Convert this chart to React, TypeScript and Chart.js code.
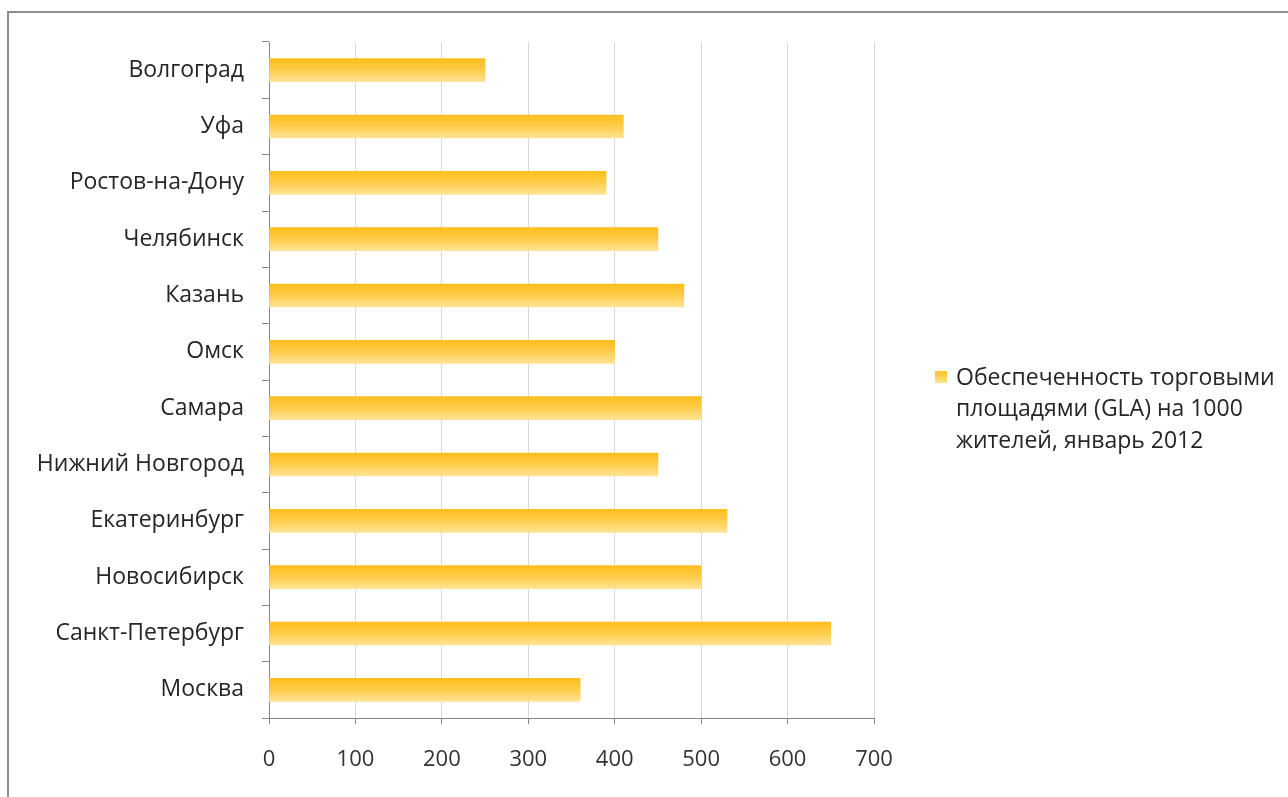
import React, { useEffect, useRef } from "react";
import { Chart, registerables } from "chart.js";

Chart.register(...registerables);

// Cities, top to bottom
const cities = [
  "Волгоград",
  "Уфа",
  "Ростов-на-Дону",
  "Челябинск",
  "Казань",
  "Омск",
  "Самара",
  "Нижний Новгород",
  "Екатеринбург",
  "Новосибирск",
  "Санкт-Петербург",
  "Москва",
];

// GLA per 1000 residents, January 2012
const glaPer1000 = [250, 410, 390, 450, 480, 400, 500, 450, 530, 500, 650, 360];

const xTicks = [0, 100, 200, 300, 400, 500, 600, 700];

const legendLines = [
  "Обеспеченность торговыми",
  "площадями (GLA) на 1000",
  "жителей, январь 2012",
];

const FONT = "'Open Sans', 'Noto Sans', sans-serif";
const BAR_THICKNESS = 23;
const AXIS_GRAY = "#878787";

function barGradient(ctx: CanvasRenderingContext2D, top: number, bottom: number) {
  const g = ctx.createLinearGradient(0, top, 0, bottom);
  g.addColorStop(0, "#FFBE1E");
  g.addColorStop(0.45, "#FFCB45");
  g.addColorStop(1, "#FFE394");
  return g;
}

// Outer frame (top and left edges) and the wrapped legend on the right
const framePlugin = {
  id: "frameAndLegend",
  beforeDraw(chart: any) {
    const ctx = chart.ctx;
    ctx.save();
    ctx.fillStyle = "#ffffff";
    ctx.fillRect(0, 0, chart.width, chart.height);
    ctx.strokeStyle = "#8e8e8e";
    ctx.lineWidth = 2;
    ctx.beginPath();
    ctx.moveTo(8, chart.height);
    ctx.lineTo(8, 12);
    ctx.lineTo(chart.width, 12);
    ctx.stroke();
    ctx.restore();
  },
  afterDraw(chart: any) {
    const ctx = chart.ctx;
    ctx.save();
    ctx.fillStyle = barGradient(ctx, 369, 383);
    ctx.fillRect(935, 371, 12, 12);
    ctx.fillStyle = "#262626";
    ctx.font = `23px ${FONT}`;
    ctx.textBaseline = "middle";
    ctx.textAlign = "left";
    legendLines.forEach((line, i) => {
      ctx.fillText(line, 956, 378 + i * 31.5);
    });
    ctx.restore();
  },
};

export default function App() {
  const canvasRef = useRef<HTMLCanvasElement | null>(null);

  useEffect(() => {
    if (!canvasRef.current) return;
    const chart = new Chart(canvasRef.current, {
      type: "bar",
      data: {
        labels: cities,
        datasets: [
          {
            label: legendLines.join(" "),
            data: glaPer1000,
            barThickness: BAR_THICKNESS,
            borderWidth: 0,
            backgroundColor: (c: any) => {
              const yScale = c.chart.scales?.y;
              if (!yScale || c.dataIndex === undefined) return "#FFC83A";
              const center = yScale.getPixelForValue(c.dataIndex);
              if (!Number.isFinite(center)) return "#FFC83A";
              return barGradient(
                c.chart.ctx,
                center - BAR_THICKNESS / 2,
                center + BAR_THICKNESS / 2
              );
            },
          },
        ],
      },
      options: {
        indexAxis: "y",
        responsive: false,
        animation: false,
        layout: { padding: { top: 42, right: 414, bottom: 0, left: 0 } },
        plugins: {
          legend: { display: false },
          tooltip: { enabled: false },
        },
        scales: {
          x: {
            type: "linear",
            min: 0,
            max: 700,
            afterBuildTicks: (scale: any) => {
              scale.ticks = xTicks.map((v) => ({ value: v }));
            },
            afterFit: (scale: any) => {
              scale.height = 79;
            },
            grid: {
              color: "#d9d9d9",
              tickColor: AXIS_GRAY,
              tickLength: 6,
              lineWidth: 1,
            },
            border: { color: AXIS_GRAY, width: 1 },
            ticks: {
              padding: 23,
              color: "#333333",
              font: { family: FONT, size: 22 },
              maxRotation: 0,
            },
          },
          y: {
            type: "category",
            afterFit: (scale: any) => {
              scale.width = 269;
            },
            grid: {
              drawOnChartArea: false,
              tickColor: AXIS_GRAY,
              tickLength: 7,
              offset: true,
            },
            border: { color: AXIS_GRAY, width: 1 },
            ticks: {
              padding: 18,
              color: "#262626",
              font: { family: FONT, size: 23 },
              autoSkip: false,
            },
          },
        },
      } as any,
      plugins: [framePlugin],
    });
    return () => chart.destroy();
  }, []);

  return (
    <div style={{ position: "fixed", left: 0, top: 0, width: 1288, height: 797, background: "#fff" }}>
      <canvas ref={canvasRef} width={1288} height={797} />
    </div>
  );
}
